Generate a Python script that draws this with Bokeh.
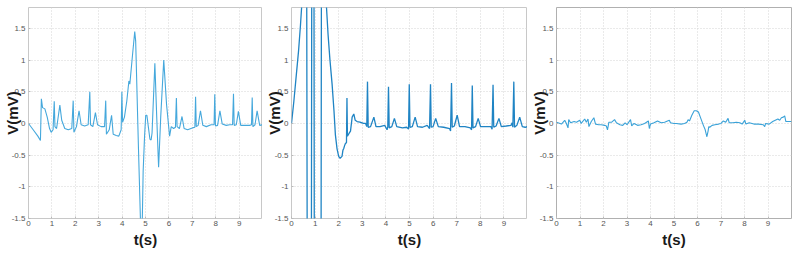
from bokeh.plotting import figure
from bokeh.layouts import row
from bokeh.models import Range1d, FixedTicker
from bokeh.embed import file_html
from bokeh.resources import INLINE

x_ticks = [0, 1, 2, 3, 4, 5, 6, 7, 8, 9]
x_tick_labels = ["0", "1", "2", "3", "4", "5", "6", "7", "8", "9"]
y_ticks = [-1.5, -1, -0.5, 0, 0.5, 1, 1.5]
y_tick_labels = ["-1.5", "-1", "-0.5", "0", "0.5", "1", "1.5"]

# Panel 1: noisy ECG with motion artefact around 4.5-6 s
t1 = [0.00, 0.20, 0.40, 0.51, 0.55, 0.60, 0.70, 0.80, 0.90, 0.97, 1.05, 1.10, 1.13, 1.20,
      1.34, 1.42, 1.55, 1.70, 1.85, 1.91, 1.94, 2.05, 2.16, 2.25, 2.40, 2.55, 2.62, 2.65,
      2.75, 2.86, 2.95, 3.10, 3.25, 3.30, 3.33, 3.45, 3.55, 3.62, 3.75, 3.86, 3.96, 3.99,
      4.02, 4.10, 4.20, 4.29, 4.33, 4.45, 4.54, 4.58, 4.70, 4.79, 4.86, 4.90, 4.96, 5.01,
      5.06, 5.12, 5.19, 5.24, 5.28, 5.40, 5.48, 5.56, 5.65, 5.78, 5.90, 6.03, 6.10, 6.20,
      6.28, 6.32, 6.35, 6.45, 6.56, 6.65, 6.80, 7.00, 7.11, 7.14, 7.17, 7.25, 7.35, 7.45,
      7.60, 7.80, 7.93, 7.96, 7.99, 8.08, 8.18, 8.28, 8.45, 8.60, 8.72, 8.76, 8.79, 8.88,
      8.97, 9.07, 9.25, 9.45, 9.53, 9.56, 9.59, 9.68, 9.77, 9.88, 10.00]
v1 = [0.00, -0.10, -0.20, -0.27, 0.39, 0.25, 0.23, 0.10, -0.08, -0.14, -0.10, 0.35, -0.05, -0.08,
      0.29, 0.05, -0.08, -0.10, -0.08, 0.36, -0.14, -0.05, 0.20, -0.02, -0.04, -0.02, 0.50, -0.02,
      -0.05, 0.17, -0.02, -0.05, -0.05, 0.36, -0.17, -0.10, 0.13, -0.17, -0.19, -0.20, -0.10, 0.50,
      0.02, 0.10, 0.35, 0.67, 0.62, 1.10, 1.45, 1.30, -0.40, -1.60, -1.60, -0.75, -0.20, 0.13,
      0.13, -0.05, -0.25, -0.26, -0.15, 0.95, 0.10, -0.69, 0.10, 1.00, 0.30, -0.20, -0.05, -0.08,
      -0.06, 0.40, -0.05, -0.08, 0.11, -0.08, -0.10, -0.07, -0.06, 0.42, -0.05, -0.03, 0.20, -0.03,
      -0.05, -0.02, -0.02, 0.46, -0.04, -0.03, 0.20, -0.01, -0.03, -0.02, -0.02, 0.47, -0.03, -0.02,
      0.19, -0.03, -0.03, -0.03, -0.02, 0.41, -0.05, -0.02, 0.20, -0.03, -0.02]

# Panel 2: saturated start, then clean ECG
t2 = [0.00, 0.10, 0.20, 0.30, 0.38, 0.44, 0.55, 0.64, 0.67, 0.84, 0.86, 0.95, 0.97, 1.25,
      1.27, 1.40, 1.48, 1.55, 1.63, 1.72, 1.80, 1.86, 1.93, 2.00, 2.06, 2.14, 2.18, 2.21,
      2.25, 2.28, 2.33, 2.35, 2.37, 2.45, 2.50, 2.57, 2.64, 2.70, 2.78, 2.90, 3.05, 3.14,
      3.19, 3.22, 3.25, 3.35, 3.49, 3.58, 3.75, 3.95, 4.05, 4.08, 4.11, 4.14, 4.25, 4.36,
      4.46, 4.70, 4.88, 4.96, 4.99, 5.02, 5.12, 5.24, 5.34, 5.55, 5.75, 5.85, 5.89, 5.92,
      6.00, 6.11, 6.22, 6.45, 6.70, 6.74, 6.78, 6.81, 6.90, 7.02, 7.12, 7.35, 7.58, 7.63,
      7.66, 7.69, 7.80, 7.91, 8.01, 8.25, 8.45, 8.50, 8.54, 8.57, 8.67, 8.79, 8.89, 9.10,
      9.30, 9.35, 9.38, 9.42, 9.45, 9.55, 9.67, 9.78, 9.90, 10.00]
v2 = [0.00, 0.35, 0.75, 1.15, 1.55, 1.90, 2.60, 3.00, -3.00, -3.00, 3.00, 3.00, -3.00, -3.00,
      3.00, 2.60, 1.85, 1.40, 1.00, 0.62, 0.20, -0.18, -0.40, -0.52, -0.55, -0.52, -0.42, -0.40,
      -0.35, -0.32, -0.30, 0.40, -0.20, -0.15, -0.12, 0.10, 0.15, 0.05, 0.03, 0.02, 0.00, 0.00,
      -0.05, 0.66, -0.06, -0.05, 0.10, -0.05, -0.05, -0.03, -0.10, -0.05, 0.58, -0.07, -0.05, 0.08,
      -0.05, -0.07, -0.06, -0.09, 0.62, -0.06, -0.05, 0.10, -0.05, -0.06, -0.03, -0.08, 0.62, -0.06,
      -0.05, 0.08, -0.05, -0.06, -0.08, -0.12, 0.64, -0.06, -0.04, 0.13, -0.05, -0.05, -0.07, -0.10,
      0.60, -0.07, -0.05, 0.08, -0.05, -0.05, -0.05, -0.09, 0.61, -0.06, -0.04, 0.08, -0.05, -0.04,
      -0.03, 0.01, -0.06, 0.66, -0.06, -0.03, 0.10, -0.05, -0.06, -0.05]

# Panel 3: low-amplitude signal
t3 = [0.00, 0.21, 0.35, 0.42, 0.49, 0.52, 0.60, 0.75, 0.85, 0.99, 1.05, 1.20, 1.27, 1.34,
      1.38, 1.48, 1.59, 1.66, 1.80, 1.90, 2.05, 2.12, 2.17, 2.23, 2.35, 2.47, 2.55, 2.70,
      2.82, 2.92, 3.00, 3.15, 3.20, 3.30, 3.45, 3.60, 3.75, 3.91, 3.95, 4.00, 4.15, 4.30,
      4.45, 4.60, 4.80, 4.85, 5.00, 5.10, 5.30, 5.45, 5.55, 5.60, 5.66, 5.76, 5.86, 5.95,
      6.04, 6.14, 6.25, 6.32, 6.40, 6.45, 6.48, 6.52, 6.62, 6.74, 6.90, 7.00, 7.10, 7.20,
      7.30, 7.35, 7.50, 7.65, 7.80, 7.90, 8.01, 8.06, 8.20, 8.40, 8.60, 8.80, 8.86, 8.90,
      9.05, 9.20, 9.42, 9.50, 9.57, 9.65, 9.71, 9.76, 9.85, 10.00]
v3 = [0.02, -0.01, 0.05, 0.00, -0.07, 0.06, 0.01, 0.03, 0.02, 0.05, 0.00, 0.07, 0.02, 0.07,
      -0.05, 0.03, 0.09, -0.01, -0.02, -0.02, -0.03, -0.04, -0.10, 0.02, 0.02, 0.06, 0.01, -0.02,
      -0.03, 0.01, -0.02, 0.06, -0.04, 0.00, -0.03, -0.02, 0.00, 0.04, -0.08, -0.01, 0.01, 0.04,
      0.01, 0.02, 0.05, 0.01, 0.00, 0.00, -0.01, 0.00, 0.02, 0.06, 0.04, 0.13, 0.20, 0.20,
      0.18, 0.08, -0.03, -0.09, -0.21, -0.12, -0.05, -0.06, -0.03, -0.02, -0.01, 0.00, 0.04, 0.02,
      0.08, 0.01, 0.01, 0.02, 0.01, -0.01, 0.05, -0.01, 0.01, -0.01, -0.01, -0.02, -0.05, 0.00,
      -0.01, 0.03, 0.07, 0.05, 0.09, 0.10, 0.12, 0.03, 0.03, 0.03]

FONT = "Liberation Sans"


def make_panel(t, v, color, width, left, right, ylab_standoff, lw):
    p = figure(width=width, height=253, x_range=Range1d(0, 10), y_range=Range1d(-1.5, 1.83),
               output_backend="svg", toolbar_location=None,
               min_border_left=left, min_border_right=right, min_border_top=7,
               min_border_bottom=35)
    p.line(t, v, line_color=color, line_width=lw)
    p.outline_line_color = "#c8c8c8"
    p.outline_line_width = 1
    p.background_fill_color = "white"
    p.border_fill_color = "white"

    p.xaxis.ticker = FixedTicker(ticks=x_ticks)
    p.yaxis.ticker = FixedTicker(ticks=y_ticks)
    p.xaxis.major_label_overrides = dict(zip(x_ticks, x_tick_labels))
    p.yaxis.major_label_overrides = dict(zip(y_ticks, y_tick_labels))

    for ax in (p.xaxis[0], p.yaxis[0]):
        ax.axis_line_color = None
        ax.major_tick_out = 0
        ax.major_tick_in = 2
        ax.major_tick_line_color = "#bbbbbb"
        ax.minor_tick_line_color = None
        ax.major_label_text_font = FONT
        ax.major_label_text_font_size = "8px"
        ax.major_label_text_color = "#555555"
        ax.major_label_standoff = 3
        ax.axis_label_text_font = FONT
        ax.axis_label_text_font_style = "bold"
        ax.axis_label_text_font_size = "15px"
        ax.axis_label_text_color = "#1a1a1a"

    p.xaxis.axis_label = "t(s)"
    p.xaxis.axis_label_standoff = 2
    p.xaxis.major_label_standoff = 2
    p.yaxis.axis_label = "V(mV)"
    p.yaxis.axis_label_standoff = ylab_standoff

    for g in (p.xgrid[0], p.ygrid[0]):
        g.grid_line_color = "#d4d4d4"
        g.grid_line_dash = "1 2"
        g.grid_line_width = 1
    return p


p1 = make_panel(t1, v1, "#45a8dc", 262, 28, 0, -12, 1.1)
p2 = make_panel(t2, v2, "#1f84c4", 265, 27, 0, -11, 1.3)
p3 = make_panel(t3, v3, "#3aa2d8", 269, 27, 5, -11, 1.1)
p3.outline_line_color = "#b0b0b0"

layout = row(p1, p2, p3)
open("out.html", "w").write(file_html(layout, INLINE))
